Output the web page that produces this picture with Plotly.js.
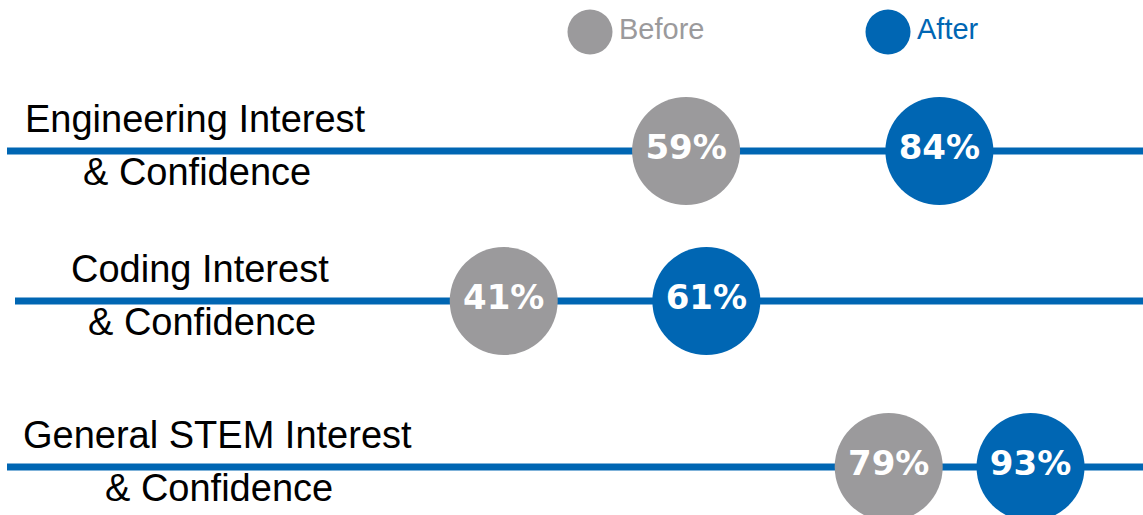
<!DOCTYPE html>
<html>
<head>
<meta charset="utf-8">
<script src="https://cdn.plot.ly/plotly-3.0.1.min.js"></script>
<style>html,body{margin:0;padding:0;background:#fff;}#chart{width:1143px;height:515px;}</style>
</head>
<body>
<div id="chart"></div>
<script>
// ---- data ----
const categories = ['Engineering Interest', 'Coding Interest', 'General STEM Interest'];
const subLabel = '& Confidence';
const before = [59, 41, 79];
const after = [84, 61, 93];
const seriesNames = ['Before', 'After'];

// ---- styles ----
const GRAY = '#9b9a9c';
const BLUE = '#0066b3';
const rowCenters = [1 - 151 / 515, 1 - 301 / 515, 1 - 467 / 515];
const labelX = [195 / 1143, 200 / 1143, 217 / 1143];
const lineStart = [7 / 1143, 15 / 1143, 7 / 1143];

const traces = [];
const shapes = [];
const annotations = [];
const layout = {
  width: 1143, height: 515,
  margin: {l: 0, r: 0, t: 0, b: 0},
  paper_bgcolor: '#fff', plot_bgcolor: 'rgba(0,0,0,0)',
  showlegend: false,
  xaxis: {range: [-8.72, 104.1], visible: false, fixedrange: true},
  shapes: shapes, annotations: annotations
};

categories.forEach((cat, i) => {
  const ax = i === 0 ? 'y' : 'y' + (i + 1);
  const axKey = i === 0 ? 'yaxis' : 'yaxis' + (i + 1);
  layout[axKey] = {domain: [rowCenters[i] - 0.09, rowCenters[i] + 0.09], range: [-1, 1], visible: false, anchor: 'x', fixedrange: true};
  [before, after].forEach((series, s) => {
    traces.push({
      type: 'scatter', mode: 'markers+text',
      x: [series[i]], y: [0], yaxis: ax, xaxis: 'x',
      name: seriesNames[s],
      text: [series[i] + '%'], textposition: 'middle center',
      textfont: {family: 'DejaVu Sans', size: 34, color: '#fff', weight: 'bold'},
      marker: {size: 108, color: s === 0 ? GRAY : BLUE, line: {width: 0}},
      hoverinfo: 'skip', cliponaxis: false
    });
  });
  shapes.push({type: 'line', layer: 'below', xref: 'paper', yref: ax, x0: lineStart[i], x1: 1, y0: 0, y1: 0, line: {color: BLUE, width: 7}});
  annotations.push({xref: 'paper', yref: ax, x: labelX[i], y: 0, yanchor: 'bottom', xanchor: 'center', yshift: 9, showarrow: false, text: cat, font: {family: 'Liberation Sans, Arial', size: 38, color: '#000'}});
  annotations.push({xref: 'paper', yref: ax, x: labelX[i] + 1.5 / 1143, y: 0, yanchor: 'top', xanchor: 'center', yshift: 2, showarrow: false, text: subLabel, font: {family: 'Liberation Sans, Arial', size: 38, color: '#000'}});
});

// legend
const legendX = [590 / 1143, 888 / 1143];
const legendColors = [GRAY, BLUE];
seriesNames.forEach((nm, s) => {
  shapes.push({type: 'circle', xref: 'paper', yref: 'paper', xsizemode: 'pixel', ysizemode: 'pixel', xanchor: legendX[s], yanchor: 1 - 32 / 515, x0: -22.5, x1: 22.5, y0: -22.5, y1: 22.5, fillcolor: legendColors[s], line: {width: 0}});
  annotations.push({xref: 'paper', yref: 'paper', x: legendX[s], xshift: 27, y: 1 - 29 / 515, xanchor: 'left', yanchor: 'middle', showarrow: false, text: nm, font: {family: 'Liberation Sans, Arial', size: 29, color: legendColors[s]}});
});

Plotly.newPlot('chart', traces, layout, {staticPlot: true, displayModeBar: false});
</script>
</body>
</html>
